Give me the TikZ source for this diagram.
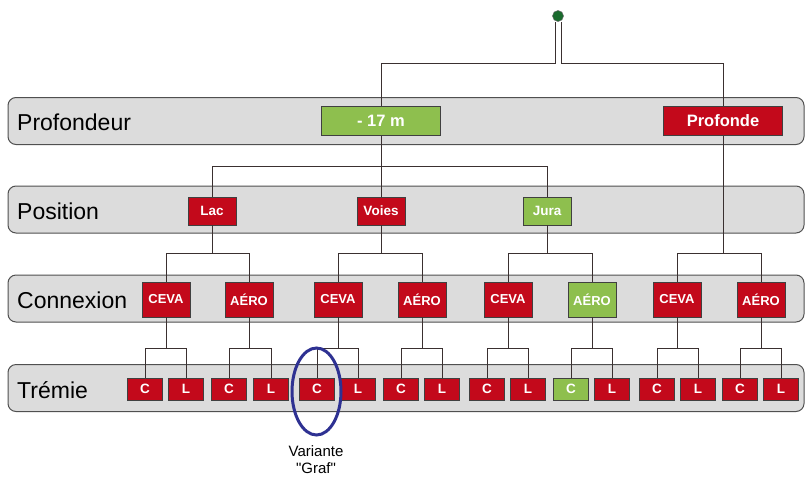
\documentclass[tikz,border=0pt]{standalone}
\usepackage{fontspec}
\setmainfont{Liberation Sans}
\newfontfamily\plainfont{Liberation Sans}
\usetikzlibrary{shapes.geometric}
\definecolor{boxred}{HTML}{C3091B}
\definecolor{boxgreen}{HTML}{8EBF4E}
\definecolor{bandfill}{HTML}{DCDCDC}
\definecolor{bandline}{HTML}{505050}
\definecolor{linkcol}{HTML}{3A3030}
\definecolor{ellblue}{HTML}{2E3192}
\definecolor{rootgreen}{HTML}{1A6B2E}
\begin{document}
\begin{tikzpicture}[x=1pt,y=-1pt,
  band/.style={draw=bandline, fill=bandfill, line width=1pt, rounded corners=8pt,
    minimum width=796pt, minimum height=47pt, inner sep=0pt},
  bandlabel/.style={anchor=west, font=\fontsize{23}{26}\selectfont, inner sep=0pt},
  boxbase/.style={draw=black!75, line width=0.6pt, text=white, inner sep=0pt},
  pbox/.style={boxbase, minimum width=119pt, minimum height=29pt,
    font=\bfseries\fontsize{16.5}{18}\selectfont},
  posbox/.style={boxbase, minimum width=48pt, minimum height=28pt,
    font=\bfseries\fontsize{13.5}{16}\selectfont},
  cbox/.style={boxbase, minimum width=48pt, minimum height=35pt,
    font=\bfseries\fontsize{13}{16}\selectfont},
  tbox/.style={boxbase, minimum width=35pt, minimum height=22pt,
    font=\bfseries\fontsize{13.5}{16}\selectfont},
  link/.style={draw=linkcol, line width=0.9pt}]
\useasboundingbox (0,0) rectangle (805,477);

% bands
\node[band] (bandA) at (406,121) {};
\node[band] (bandB) at (406,209.5) {};
\node[band] (bandC) at (406,298.5) {};
\node[band] (bandD) at (406,388) {};
\node[bandlabel] (labA) at (17,122) {Profondeur};
\node[bandlabel] (labB) at (17,211) {Position};
\node[bandlabel] (labC) at (17,300) {Connexion};
\node[bandlabel] (labD) at (17,390) {Trémie};

% helper levels
\coordinate (y0) at (0,63);
\coordinate (y1) at (0,166);
\coordinate (y2) at (0,253);
\coordinate (y3) at (0,348);

% root
\node[circle, fill=rootgreen, draw=black!60, line width=0.5pt, minimum size=11pt, inner sep=0pt] (root) at (558,16) {};
\coordinate (rl) at (555,16);
\coordinate (rr) at (561,16);

% Profondeur boxes
\node[pbox, fill=boxgreen] (m17) at (381,121) {- 17 m};
\node[pbox, fill=boxred] (prof) at (723,121) {Profonde};

% Position boxes
\node[posbox, fill=boxred] (lac) at (212,211) {Lac};
\node[posbox, fill=boxred] (voies) at (381,211) {Voies};
\node[posbox, fill=boxgreen] (jura) at (547,211) {Jura};

% Connexion boxes
\foreach \x/\n/\lab/\col in {166/c1/CEVA/boxred, 249/c2/AÉRO/boxred,
  338/c3/CEVA/boxred, 422/c4/AÉRO/boxred, 508/c5/CEVA/boxred,
  592/c6/AÉRO/boxgreen, 677/c7/CEVA/boxred, 761/c8/AÉRO/boxred}
  \node[cbox, fill=\col] (\n) at (\x,299.5) {\lab};

% Trémie boxes
\foreach \x/\n/\lab/\col in {145/t1/C/boxred, 186/t2/L/boxred,
  229/t3/C/boxred, 271/t4/L/boxred, 317/t5/C/boxred, 358/t6/L/boxred,
  401/t7/C/boxred, 442/t8/L/boxred, 487/t9/C/boxred, 528/t10/L/boxred,
  571/t11/C/boxgreen, 612/t12/L/boxred, 657/t13/C/boxred, 698/t14/L/boxred,
  740/t15/C/boxred, 781/t16/L/boxred}
  \node[tbox, fill=\col] (\n) at (\x,389) {\lab};

% connectors from root
\draw[link] (rl |- root.south) -- (rl |- y0) -| (m17.north);
\draw[link] (rr |- root.south) -- (rr |- y0) -| (prof.north);

% Profondeur -> Position
\draw[link] (m17.south) -- (m17.south |- y1);
\draw[link] (lac.north) -- (lac.north |- y1) -- (jura.north |- y1) -- (jura.north);
\draw[link] (voies.north) -- (voies.north |- y1);

% Position -> Connexion
\foreach \p/\a/\b in {lac/c1/c2, voies/c3/c4, jura/c5/c6, prof/c7/c8} {
  \draw[link] (\p.south) -- (\p.south |- y2);
  \draw[link] (\a.north) -- (\a.north |- y2) -- (\b.north |- y2) -- (\b.north);
}

% Connexion -> Trémie
\foreach \p/\a/\b in {c1/t1/t2, c2/t3/t4, c3/t5/t6, c4/t7/t8,
  c5/t9/t10, c6/t11/t12, c7/t13/t14, c8/t15/t16} {
  \draw[link] (\p.south) -- (\p.south |- y3);
  \draw[link] (\a.north) -- (\a.north |- y3) -- (\b.north |- y3) -- (\b.north);
}

% Variante Graf
\node[ellipse, draw=ellblue, line width=3pt, minimum width=49pt, minimum height=87pt, inner sep=0pt] (graf) at (316.5,391.5) {};
\node[align=center, font=\plainfont\fontsize{15}{17}\selectfont, inner sep=0pt] (vtxt) at (316,459.5) {Variante\\"Graf"};
\end{tikzpicture}
\end{document}
